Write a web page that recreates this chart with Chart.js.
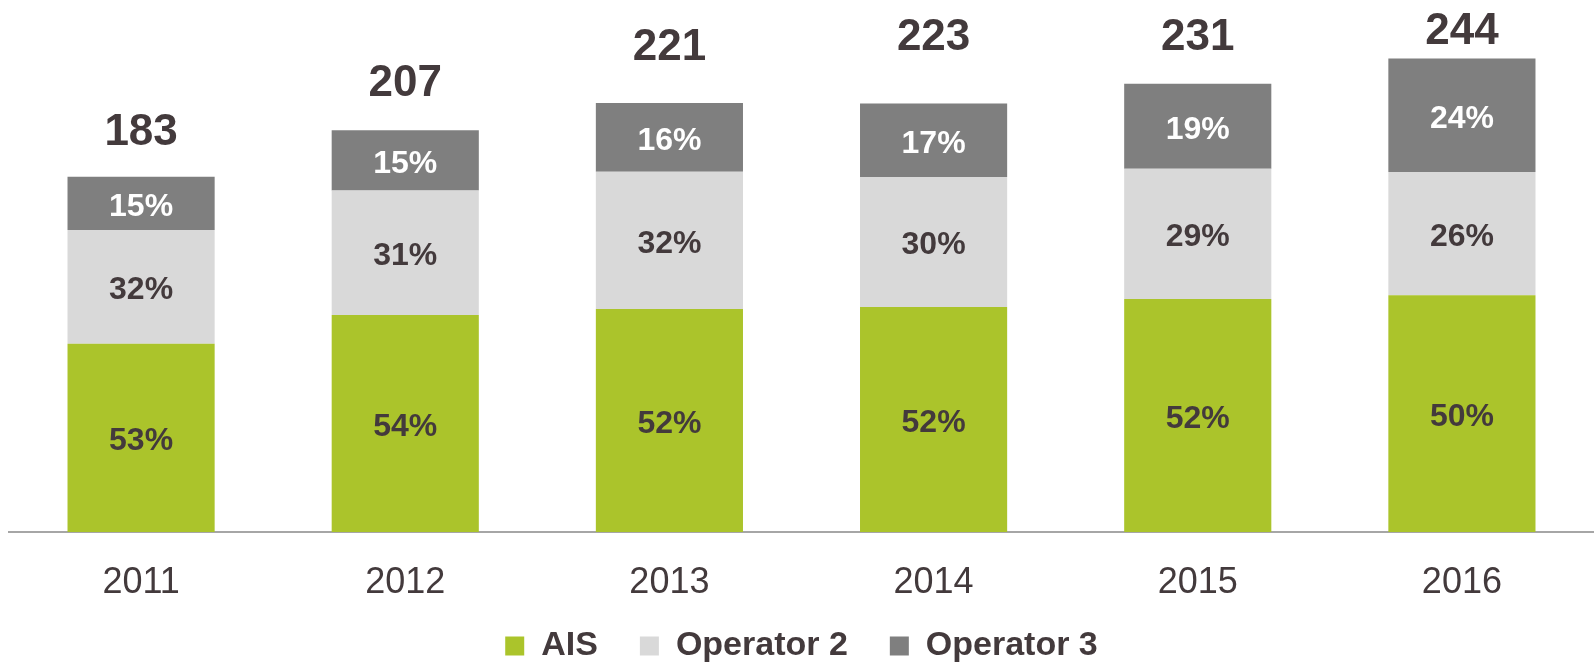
<!DOCTYPE html>
<html>
<head>
<meta charset="utf-8">
<script src="https://cdn.jsdelivr.net/npm/chart.js@4/dist/chart.umd.min.js"></script>
<style>
  html, body { margin: 0; padding: 0; background: #ffffff; overflow: hidden; }
  #wrap { width: 1594px; height: 665px; position: relative; }
</style>
</head>
<body>
<div id="wrap"><canvas id="c"></canvas></div>
<script>
// ---- data ----
const years = ['2011', '2012', '2013', '2014', '2015', '2016'];
const totals = [183, 207, 221, 223, 231, 244];
const aisPct = [53, 54, 52, 52, 52, 50];
const op2Pct = [32, 31, 32, 30, 29, 26];
const op3Pct = [15, 15, 16, 17, 19, 24];
const seriesNames = ['AIS', 'Operator 2', 'Operator 3'];

// ---- styles ----
const colors = ['#abc42b', '#d9d9d9', '#7f7f7f'];
const textDark = '#433a3c';
const fontFamily = '"Liberation Sans", Arial, sans-serif';
const totalLabelOffsets = [44, 46, 55, 66, 46, 27];

const pctSets = [aisPct, op2Pct, op3Pct];
const datasets = pctSets.map((p, i) => ({
  label: seriesNames[i],
  data: p.map((v, j) => totals[j] * v / 100),
  pct: p,
  backgroundColor: colors[i],
  borderWidth: 0,
  barPercentage: 0.557,
  categoryPercentage: 1.0
}));

const labelPlugin = {
  id: 'labelPlugin',
  afterLayout(chart) {
    // let x tick labels extend below the (shortened) axis box without clipping
    const s = chart.scales.x;
    const extra = chart.height - s.bottom;
    s.bottom += extra;
    s.height += extra;
  },
  afterDatasetsDraw(chart) {
    const ctx = chart.ctx;
    ctx.save();
    ctx.textAlign = 'center';
    ctx.textBaseline = 'middle';
    chart.data.datasets.forEach((ds, di) => {
      const meta = chart.getDatasetMeta(di);
      meta.data.forEach((bar, j) => {
        const cy = (bar.y + bar.base) / 2;
        ctx.font = 'bold 32px ' + fontFamily;
        ctx.fillStyle = di === 2 ? '#ffffff' : textDark;
        ctx.fillText(ds.pct[j] + '%', bar.x, cy + 3.5);
      });
    });
    const topMeta = chart.getDatasetMeta(chart.data.datasets.length - 1);
    topMeta.data.forEach((bar, j) => {
      ctx.font = 'bold 44px ' + fontFamily;
      ctx.fillStyle = textDark;
      ctx.fillText(String(totals[j]), bar.x, bar.y - totalLabelOffsets[j]);
    });
    ctx.restore();
  }
};

new Chart(document.getElementById('c'), {
  type: 'bar',
  data: { labels: years, datasets },
  options: {
    responsive: true,
    maintainAspectRatio: false,
    animation: false,
    layout: { padding: { top: 8, left: 9, right: 0, bottom: -8 } },
    plugins: {
      tooltip: { enabled: false },
      legend: {
        display: true,
        position: 'bottom',
        labels: {
          boxWidth: 19,
          boxHeight: 19,
          padding: 42,
          color: textDark,
          font: { family: fontFamily, size: 34, weight: 'bold' }
        }
      }
    },
    scales: {
      x: {
        stacked: true,
        grid: { display: false, drawTicks: false },
        border: { display: true, color: '#a6a6a6', width: 2 },
        ticks: {
          padding: 29,
          color: textDark,
          font: { family: fontFamily, size: 36 }
        },
        afterFit: (scale) => { scale.height = 55; }
      },
      y: {
        stacked: true,
        display: false,
        min: 0,
        max: 270
      }
    }
  },
  plugins: [labelPlugin]
});
</script>
</body>
</html>
